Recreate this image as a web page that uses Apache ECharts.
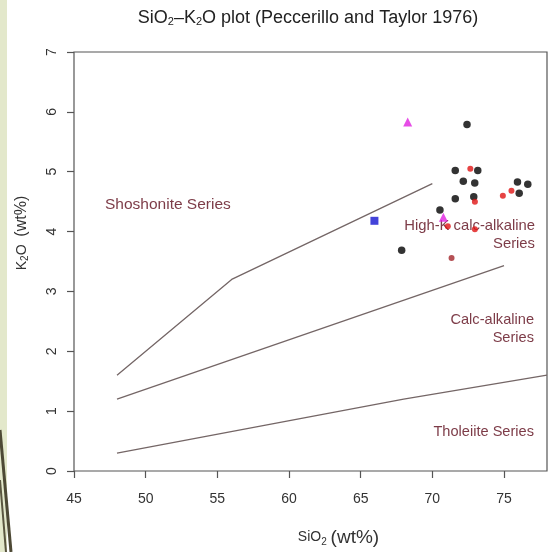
<!DOCTYPE html>
<html><head><meta charset="utf-8">
<script src="https://cdn.jsdelivr.net/npm/echarts@6/dist/echarts.min.js"></script>
<style>html,body{margin:0;padding:0;background:#fff}#c{width:548px;height:552px}</style>
</head><body><div id="c"></div>
<script>
// Tick values
const xTicks = [45, 50, 55, 60, 65, 70, 75];
const yTicks = [0, 1, 2, 3, 4, 5, 6, 7];

// Boundary lines (Peccerillo & Taylor 1976)
const shoX = [48, 56, 70];
const shoY = [1.6, 3.2, 4.8];
const hkX = [48, 75];
const hkY = [1.2, 3.43];
const thX = [48, 68, 78];
const thY = [0.3, 1.2, 1.6];

// Samples
const blackSiO2 = [72.42, 71.60, 73.17, 72.16, 72.96, 75.94, 76.66, 76.06, 71.60, 72.89, 70.53, 67.86];
const blackK2O  = [5.79, 5.02, 5.02, 4.84, 4.81, 4.83, 4.79, 4.64, 4.55, 4.58, 4.36, 3.69];
const redSiO2 = [72.65, 75.52, 74.92, 72.97, 71.08, 72.97];
const redK2O  = [5.05, 4.68, 4.60, 4.50, 4.09, 4.04];
const darkRedSiO2 = [71.34];
const darkRedK2O  = [3.56];
const magentaSiO2 = [68.28, 70.77];
const magentaK2O  = [5.83, 4.24];
const blueSiO2 = [65.96];
const blueK2O  = [4.18];

const zip = (a, b) => a.map((v, i) => [v, b[i]]);

const chart = echarts.init(document.getElementById('c'), null, {renderer: 'canvas'});
const FONT = '"Liberation Sans", Arial, sans-serif';
const labelColor = '#7d3c48';
const boundaryStyle = {color: '#746666', width: 1.3};

function boundary(name, xs, ys) {
  return {
    name, type: 'line', data: zip(xs, ys), symbol: 'none', silent: true,
    lineStyle: boundaryStyle, z: 2
  };
}

chart.setOption({
  animation: false,
  backgroundColor: '#ffffff',
  grid: {left: 74, right: 1, top: 52, bottom: 80, show: true, borderColor: '#555', borderWidth: 1.2, backgroundColor: 'transparent'},
  xAxis: {
    type: 'value', min: 45, max: 78, interval: 5,
    axisLine: {show: false},
    axisTick: {show: true, inside: false, length: 7, customValues: xTicks, lineStyle: {color: '#555', width: 1.2}},
    axisLabel: {customValues: xTicks, fontSize: 14, color: '#333', fontFamily: FONT, margin: 21},
    splitLine: {show: false},
    name: 'SiO{s|2} {b|(wt%)}',
    nameLocation: 'middle', nameGap: 57,
    nameTextStyle: {fontSize: 14, color: '#333', fontFamily: FONT, padding: [0, 0, 0, 56],
      rich: {s: {fontSize: 10, verticalAlign: 'bottom', color: '#333', fontFamily: FONT},
             b: {fontSize: 19, color: '#333', fontFamily: FONT}}}
  },
  yAxis: {
    type: 'value', min: 0, max: 7, interval: 1,
    axisLine: {show: false},
    axisTick: {show: true, inside: false, length: 7, customValues: yTicks, lineStyle: {color: '#555', width: 1.2}},
    axisLabel: {customValues: yTicks, fontSize: 14, color: '#333', fontFamily: FONT, rotate: 90, margin: 15},
    splitLine: {show: false}
  },
  graphic: [
    {type: 'rect', shape: {x: 0, y: 0, width: 7, height: 552}, style: {fill: '#e3e8cb'}, z: -10},
    {type: 'polyline', shape: {points: [[0, 430], [11, 552]]}, style: {stroke: '#4d4935', lineWidth: 3}, z: -9},
    {type: 'polyline', shape: {points: [[0, 480], [6, 552]]}, style: {stroke: '#5a5640', lineWidth: 2}, z: -9},
    {type: 'text', x: 308, y: 18, style: {
      text: 'SiO{s|2}–K{s|2}O plot (Peccerillo and Taylor 1976)',
      align: 'center', verticalAlign: 'middle', fontSize: 18, fill: '#222', fontFamily: FONT,
      rich: {s: {fontSize: 11, verticalAlign: 'bottom', fill: '#222', fontFamily: FONT}}
    }},
    {type: 'text', x: 22, y: 233, rotation: Math.PI / 2, style: {
      text: 'K{s|2}O  {b|(wt%)}',
      align: 'center', verticalAlign: 'middle', fontSize: 14, fill: '#333', fontFamily: FONT,
      rich: {s: {fontSize: 10, verticalAlign: 'bottom', fill: '#333', fontFamily: FONT},
             b: {fontSize: 16, fill: '#333', fontFamily: FONT}}
    }},
    {type: 'text', x: 105, y: 205, z: 1, style: {text: 'Shoshonite Series', align: 'left', verticalAlign: 'middle', fontSize: 15.5, fill: labelColor, fontFamily: FONT}},
    {type: 'text', x: 535, y: 235, z: 1, style: {text: 'High-K calc-alkaline\nSeries', align: 'right', verticalAlign: 'middle', fontSize: 14.8, lineHeight: 18, fill: labelColor, fontFamily: FONT}},
    {type: 'text', x: 534, y: 329, z: 1, style: {text: 'Calc-alkaline\nSeries', align: 'right', verticalAlign: 'middle', fontSize: 14.6, lineHeight: 18, fill: labelColor, fontFamily: FONT}},
    {type: 'text', x: 534, y: 432, z: 1, style: {text: 'Tholeiite Series', align: 'right', verticalAlign: 'middle', fontSize: 14.6, fill: labelColor, fontFamily: FONT}}
  ],
  series: [
    boundary('Shoshonite / High-K', shoX, shoY),
    boundary('High-K / Calc-alkaline', hkX, hkY),
    boundary('Calc-alkaline / Tholeiite', thX, thY),
    {name: 'Black', type: 'scatter', data: zip(blackSiO2, blackK2O), symbol: 'circle', symbolSize: 7.5, itemStyle: {color: '#000'}, z: 5},
    {name: 'Red', type: 'scatter', data: zip(redSiO2, redK2O), symbol: 'circle', symbolSize: 6, itemStyle: {color: '#e01414'}, z: 6},
    {name: 'Dark red', type: 'scatter', data: zip(darkRedSiO2, darkRedK2O), symbol: 'circle', symbolSize: 6, itemStyle: {color: '#a3262b'}, z: 6},
    {name: 'Magenta', type: 'scatter', data: zip(magentaSiO2, magentaK2O), symbol: 'triangle', symbolSize: 9, itemStyle: {color: '#e020e0'}, z: 6},
    {name: 'Blue', type: 'scatter', data: zip(blueSiO2, blueK2O), symbol: 'rect', symbolSize: 8, itemStyle: {color: '#1414d0'}, z: 6}
  ]
});
</script>
</body></html>
